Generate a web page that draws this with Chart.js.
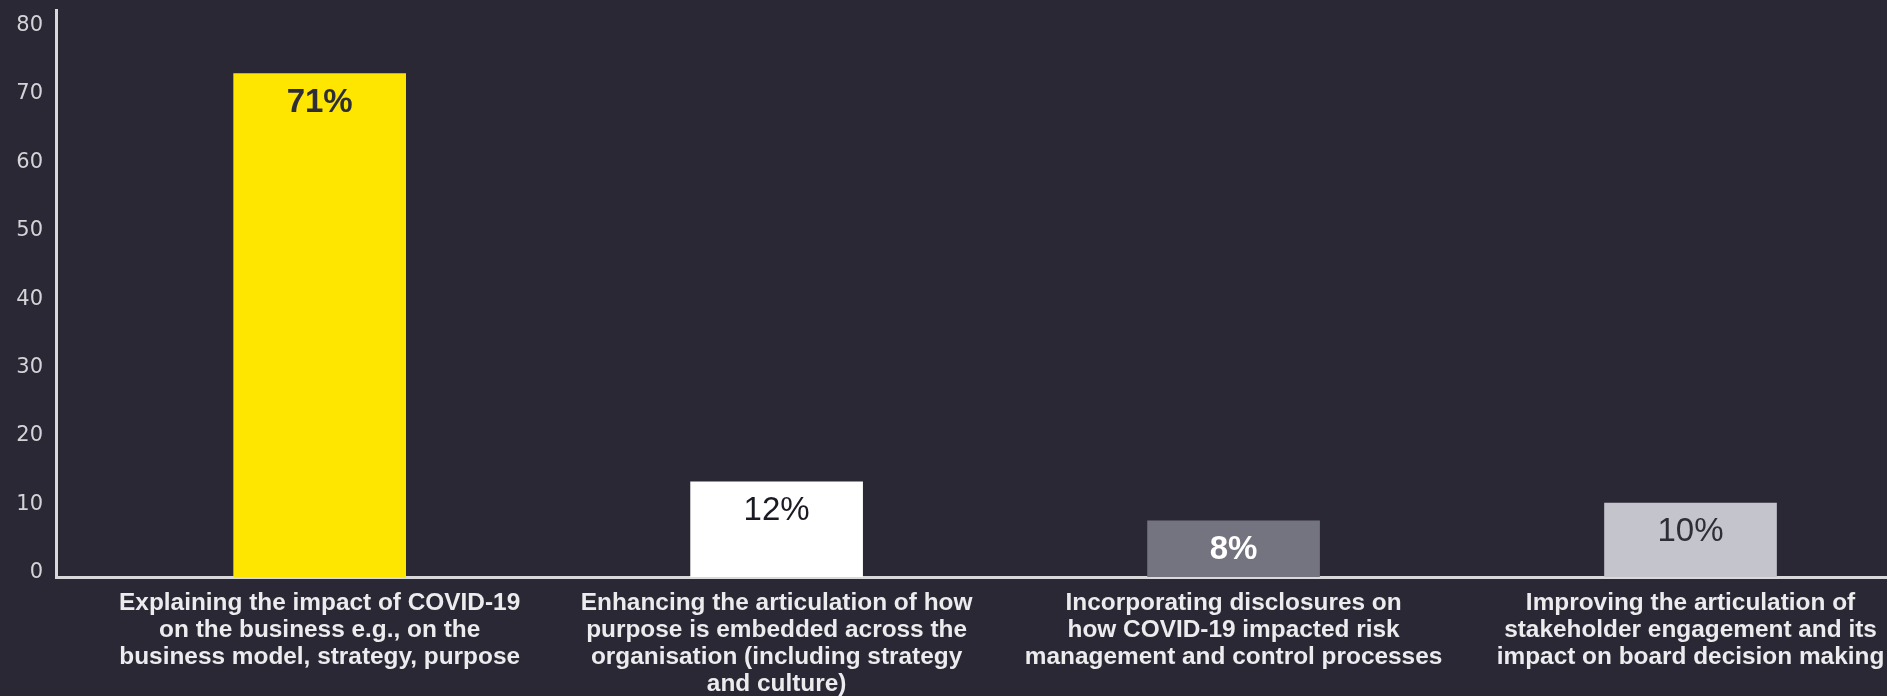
<!DOCTYPE html>
<html>
<head>
<meta charset="utf-8">
<script src="https://cdn.jsdelivr.net/npm/chart.js@4.4.0/dist/chart.umd.min.js"></script>
<style>
  html, body { margin: 0; padding: 0; background: #2a2834; overflow: hidden; }
  #wrap { width: 1887px; height: 696px; }
</style>
</head>
<body>
<div id="wrap"><canvas id="chart" width="1887" height="696"></canvas></div>
<script>
// Data
const categories = [
  ['Explaining the impact of COVID-19', 'on the business e.g., on the', 'business model, strategy, purpose'],
  ['Enhancing the articulation of how', 'purpose is embedded across the', 'organisation (including strategy', 'and culture)'],
  ['Incorporating disclosures on', 'how COVID-19 impacted risk', 'management and control processes'],
  ['Improving the articulation of', 'stakeholder engagement and its', 'impact on board decision making']
];
// bar heights as drawn against the axis, and the printed labels
const barValues = [73.5, 13.9, 8.2, 10.8];
const barLabels = ['71%', '12%', '8%', '10%'];
const yTicks = [0, 10, 20, 30, 40, 50, 60, 70, 80];

// Styles
const barColors = ['#ffe600', '#ffffff', '#747480', '#c4c4cd'];
const labelColors = ['#2e2e38', '#1a1a24', '#ffffff', '#2e2e38'];
const labelWeights = ['bold', 'normal', 'bold', 'normal'];
const axisColor = '#d9d9dc';

// draws the % label just under the top of each bar
const barValueLabels = {
  id: 'barValueLabels',
  afterDatasetsDraw(chart) {
    const ctx = chart.ctx;
    const meta = chart.getDatasetMeta(0);
    ctx.save();
    ctx.textAlign = 'center';
    ctx.textBaseline = 'middle';
    meta.data.forEach((bar, i) => {
      ctx.font = labelWeights[i] + ' 33px "Liberation Sans", Arial, sans-serif';
      ctx.fillStyle = labelColors[i];
      ctx.fillText(barLabels[i], bar.x, bar.y + 29);
    });
    ctx.restore();
  }
};

new Chart(document.getElementById('chart'), {
  type: 'bar',
  data: {
    datasets: [{
      data: barValues.map((v, i) => ({ x: i, y: v })),
      backgroundColor: barColors,
      borderWidth: 0,
      barThickness: 172
    }]
  },
  options: {
    responsive: false,
    animation: false,
    layout: { padding: { left: 0, top: 10, right: 0, bottom: 0 } },
    plugins: {
      legend: { display: false },
      tooltip: { enabled: false }
    },
    scales: {
      x: {
        type: 'linear',
        min: -0.577,
        max: 3.43,
        offset: false,
        grid: { display: false, drawTicks: false },
        border: { color: axisColor, width: 3 },
        afterBuildTicks: scale => {
          scale.ticks = categories.map((c, i) => ({ value: i }));
        },
        afterFit: scale => {
          scale.height = 119;
          scale.paddingLeft = 0;
          scale.paddingRight = 0;
        },
        ticks: {
          autoSkip: false,
          maxRotation: 0,
          padding: 13,
          color: '#ececee',
          font: { family: '"Liberation Sans", Arial, sans-serif', size: 24.4, weight: 'bold', lineHeight: 1.1 },
          callback: value => categories[value]
        }
      },
      y: {
        min: 0,
        max: 82.8,
        grid: { display: false, drawTicks: false },
        border: { color: axisColor, width: 3 },
        afterBuildTicks: scale => {
          scale.ticks = yTicks.map(v => ({ value: v }));
        },
        afterFit: scale => {
          scale.width = 56;
          scale.paddingTop = 0;
          scale.paddingBottom = 0;
        },
        ticks: {
          padding: 13,
          labelOffset: -4,
          color: '#d4d4d8',
          font: { family: '"DejaVu Sans", sans-serif', size: 21 }
        }
      }
    }
  },
  plugins: [barValueLabels]
});
</script>
</body>
</html>
